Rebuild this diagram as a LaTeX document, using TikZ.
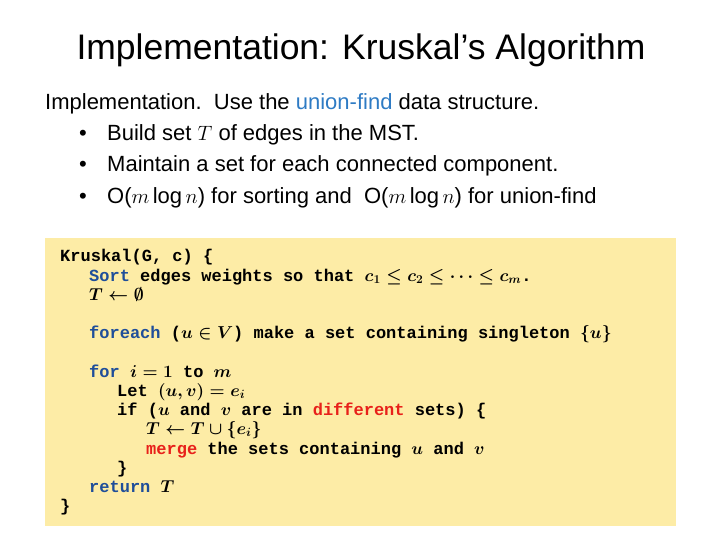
\documentclass[tikz,border=0pt]{standalone}
\usepackage{amsmath,amssymb}
\usepackage{fontspec}
\setmainfont{Liberation Sans}
\newfontfamily\codefont{Liberation Mono}
\definecolor{kw}{HTML}{1F4E9A}
\definecolor{rd}{HTML}{E8201A}
\definecolor{uf}{HTML}{2E7BC4}
\definecolor{bx}{HTML}{FDECA6}
\newcommand{\mb}[1]{{\boldmath$#1$}}
\begin{document}
\begin{tikzpicture}[x=1pt,y=-1pt,
  code/.style={anchor=base west,inner sep=0,font=\codefont\bfseries\fontsize{17}{18}\selectfont},
  txt/.style={anchor=base west,inner sep=0,font=\fontsize{22}{24}\selectfont},
  bul/.style={anchor=base,inner sep=0,font=\fontsize{22}{24}\selectfont}]
\useasboundingbox (0,0) rectangle (720,540);
\node[anchor=base,inner sep=0,font=\fontsize{35.5}{38}\selectfont] (title) at (361,60) {Implementation: Kruskal’s Algorithm};
\node[txt] (intro) at (45,110) {Implementation.\ \ Use the \textcolor{uf}{union-find} data structure.};
\node[bul] (b1) at (83,141) {•};
\node[txt] (t1) at (107,141) {Build set $T$ of edges in the MST.};
\node[bul] (b2) at (83,172) {•};
\node[txt] (t2) at (107,172) {Maintain a set for each connected component.};
\node[bul] (b3) at (83,204) {•};
\node[txt] (t3) at (107,204) {O($m\log n$) for sorting and\ \ O($m\log n$) for union-find};
\fill[bx] (45,238) rectangle (676,526);
\node[code] (l1) at (60,261) {Kruskal(G, c) \{};
\node[code] (l2) at (89,281) {\textcolor{kw}{Sort} edges weights so that \mb{c_1\le c_2\le\cdots\le c_m}.};
\node[code] (l3) at (89,300) {\mb{T\leftarrow\emptyset}};
\node[code] (l4) at (89,338) {\textcolor{kw}{foreach} (\mb{u\in V}) make a set containing singleton \mb{\{u\}}};
\node[code] (l5) at (89,377) {\textcolor{kw}{for} \mb{i=1} to \mb{m}};
\node[code] (l6) at (117,396) {Let \mb{(u,v)=e_i}};
\node[code] (l7) at (117,415) {if (\mb{u} and \mb{v} are in \textcolor{rd}{different} sets) \{};
\node[code] (l8) at (146,434) {\mb{T\leftarrow T\cup\{e_i\}}};
\node[code] (l9) at (146,454) {\textcolor{rd}{merge} the sets containing \mb{u} and \mb{v}};
\node[code] (l10) at (117,473) {\}};
\node[code] (l11) at (89,492) {\textcolor{kw}{return} \mb{T}};
\node[code] (l12) at (60,511) {\}};
\end{tikzpicture}
\end{document}
